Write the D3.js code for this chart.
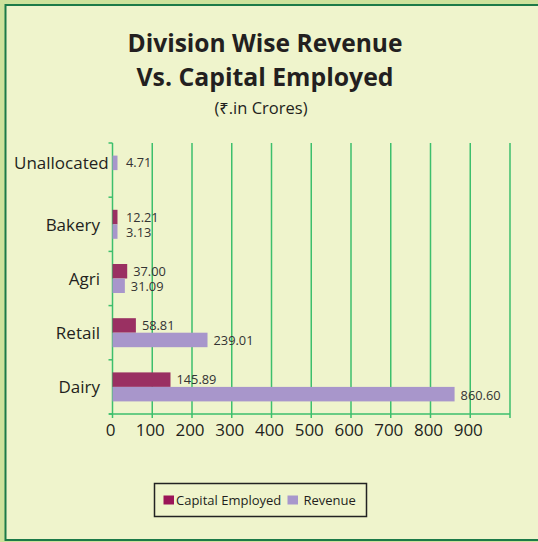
<!DOCTYPE html>
<html><head><meta charset="utf-8">
<script src="https://cdn.jsdelivr.net/npm/d3@7"></script>
<style>body{margin:0;background:#cee29c;} svg{display:block}</style>
</head><body><svg id="c" width="538" height="542"></svg>
<script>
const categories = ["Unallocated", "Bakery", "Agri", "Retail", "Dairy"];
const capitalEmployed = [null, 12.21, 37.00, 58.81, 145.89];
const revenue = [4.71, 3.13, 31.09, 239.01, 860.60];
const seriesNames = ["Capital Employed", "Revenue"];
const seriesColors = ["#9a3062", "#a896cb"];
const legendColors = ["#9b1458", "#a897cc"];
const xTicks = [0, 100, 200, 300, 400, 500, 600, 700, 800, 900, 1000];
const xTickLabels = ["0", "100", "200", "300", "400", "500", "600", "700", "800", "900", ""];
const titleLines = ["Division Wise Revenue", "Vs. Capital Employed"];
const subtitle = "(₹.in Crores)";

const FONT = "'Open Sans', 'Noto Sans', sans-serif";
const svg = d3.select("#c");

svg.append("rect").attr("x", 0).attr("y", 0).attr("width", 538).attr("height", 542).attr("fill", "#cee29c");
svg.append("rect").attr("x", 5.5).attr("y", 5).attr("width", 545).attr("height", 535)
  .attr("fill", "#eff4cc").attr("stroke", "#1c7a48").attr("stroke-width", 2);

// Title
const tl = [{t: titleLines[0], y: 51.5, w: 275}, {t: titleLines[1], y: 85.5, w: 257}];
svg.selectAll("text.title").data(tl).join("text").attr("class", "title")
  .attr("x", 265).attr("y", d => d.y).attr("text-anchor", "middle")
  .attr("font-family", FONT).attr("font-weight", 700).attr("font-size", 25.5)
  .attr("fill", "#231f20").attr("textLength", d => d.w).attr("lengthAdjust", "spacingAndGlyphs")
  .text(d => d.t);
svg.append("text").attr("x", 261).attr("y", 113.5).attr("text-anchor", "middle")
  .attr("font-family", FONT).attr("font-size", 16.5).attr("fill", "#231f20").text(subtitle);

const x = d3.scaleLinear().domain([0, 1000]).range([112.5, 510]);
const y = d3.scaleBand().domain(categories).range([143, 414]).paddingInner(0).paddingOuter(0);
const barH = 14.5;
const minBarW = 5;
const slot = d3.scaleBand().domain([0, 1]).range([y.bandwidth() / 2 - barH, y.bandwidth() / 2 + barH]);

const gridColor = "#3dbf6c";
svg.selectAll("line.grid").data(xTicks).join("line").attr("class", "grid")
  .attr("x1", d => x(d)).attr("x2", d => x(d)).attr("y1", 143).attr("y2", 418)
  .attr("stroke", gridColor).attr("stroke-width", 1.5);
svg.append("line").attr("x1", 109).attr("x2", x(1000)).attr("y1", 414).attr("y2", 414)
  .attr("stroke", gridColor).attr("stroke-width", 1.5);
const yEdges = categories.map(c => y(c)).concat([y.range()[1]]);
svg.selectAll("line.ytick").data(yEdges).join("line").attr("class", "ytick")
  .attr("x1", 108.5).attr("x2", x(0)).attr("y1", d => d).attr("y2", d => d)
  .attr("stroke", gridColor).attr("stroke-width", 1.5);

svg.selectAll("text.xt").data(xTicks).join("text").attr("class", "xt")
  .attr("x", d => x(d) - 2).attr("y", 436).attr("text-anchor", "middle")
  .attr("font-family", FONT).attr("font-size", 17).attr("fill", "#231f20")
  .text((d, i) => xTickLabels[i]);

const rows = categories.map((c, i) => {
  const vals = [capitalEmployed[i], revenue[i]];
  const present = [];
  vals.forEach((v, s) => { if (v !== null) present.push({cat: c, s, v}); });
  present.forEach((p, k) => { p.slot = k; });
  return {cat: c, present};
});
const bars = rows.flatMap(r => r.present);
const barW = d => Math.max(minBarW, x(d.v) - x(0));
svg.selectAll("rect.bar").data(bars).join("rect").attr("class", "bar")
  .attr("x", x(0)).attr("y", d => y(d.cat) + slot(d.slot))
  .attr("width", barW).attr("height", barH)
  .attr("fill", d => seriesColors[d.s]);
svg.selectAll("text.val").data(bars).join("text").attr("class", "val")
  .attr("x", d => Math.max(x(0) + barW(d) + 6, x(0) + 13.5))
  .attr("y", d => y(d.cat) + slot(d.slot) + barH / 2 + (d.slot === 0 ? -0.5 : 0.5))
  .attr("dominant-baseline", "central")
  .attr("font-family", FONT).attr("font-size", 12.8).attr("fill", "#333")
  .text(d => d.v.toFixed(2));

// category labels: right-aligned at a gutter, pushed right only if they would leave the panel margin
const labelRight = 100, labelMinLeft = 14;
const cats = svg.selectAll("text.cat").data(rows).join("text").attr("class", "cat")
  .attr("y", r => y(r.cat) + d3.mean(r.present, p => slot(p.slot) + barH / 2))
  .attr("text-anchor", "end").attr("dominant-baseline", "central")
  .attr("font-family", FONT).attr("font-size", 17).attr("fill", "#231f20")
  .text(r => r.cat);
cats.attr("x", function() {
  const w = this.getComputedTextLength();
  return Math.max(labelRight, labelMinLeft + w);
});

const legX = [163.5, 287.5];
svg.append("rect").attr("x", 154.5).attr("y", 483.5).attr("width", 212).attr("height", 33)
  .attr("fill", "none").attr("stroke", "#222").attr("stroke-width", 1.5);
const lg = svg.selectAll("g.leg").data(seriesNames).join("g").attr("class", "leg")
  .attr("transform", (d, i) => `translate(${legX[i]},500)`);
lg.append("rect").attr("x", 0).attr("y", -4.5).attr("width", 10.5).attr("height", 9)
  .attr("fill", (d, i) => legendColors[i]);
lg.append("text").attr("x", (d, i) => i === 0 ? 12.5 : 16).attr("y", 0)
  .attr("dominant-baseline", "central")
  .attr("font-family", FONT).attr("font-size", 13).attr("fill", "#231f20").text(d => d);
</script></body></html>
